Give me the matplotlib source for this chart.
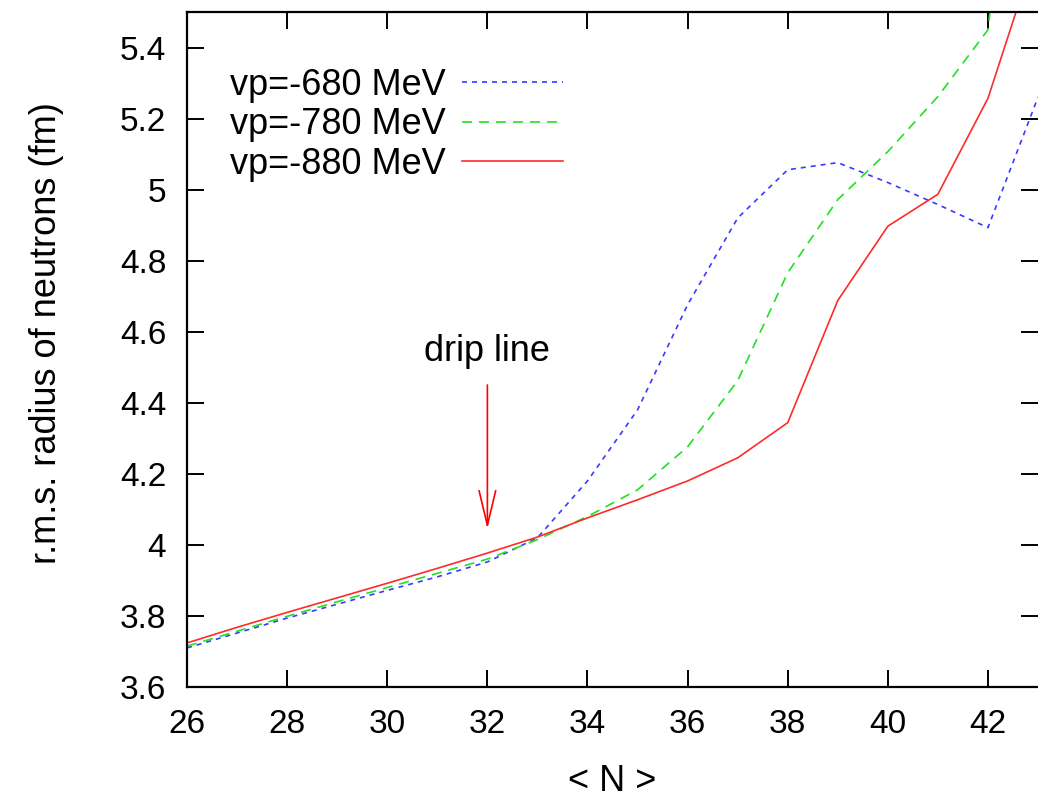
"""
rms_radius_neutrons.py — r.m.s. neutron radius vs <N> for three pairing strengths vp.
"""

import numpy as np
import matplotlib
matplotlib.use('Agg')
import matplotlib.pyplot as plt

plt.rcParams['font.family'] = ['Liberation Sans', 'DejaVu Sans']

# <N> grid
n_vals = [26, 27, 28, 29, 30, 31, 32, 33, 34, 35, 36, 37, 38, 39, 40, 41, 42, 43]

# r.m.s. radius of neutrons (fm)
r_680 = [3.710, 3.752, 3.794, 3.833, 3.872, 3.910, 3.952, 4.020, 4.180, 4.380,
         4.676, 4.920, 5.056, 5.076, 5.020, 4.958, 4.893, 5.260]
r_780 = [3.715, 3.757, 3.799, 3.840, 3.880, 3.920, 3.960, 4.015, 4.080, 4.155,
         4.276, 4.462, 4.766, 4.972, 5.107, 5.262, 5.450, 6.700]
r_880 = [3.724, 3.768, 3.810, 3.851, 3.892, 3.934, 3.977, 4.022, 4.076, 4.127,
         4.180, 4.245, 4.344, 4.688, 4.897, 4.987, 5.257, 5.690]

labels = ['vp=-680 MeV', 'vp=-780 MeV', 'vp=-880 MeV']

drip_N = 32
drip_text_y = 4.545
drip_arrow_top = 4.45
drip_arrow_tip = 4.045

FS = 26       # labels / legend / annotation
FS_TICK = 24

fig = plt.figure(figsize=(10.38, 8.0), dpi=100)
ax = fig.add_axes([0.1802, 0.14125, 0.8198, 0.84375])

ax.plot(n_vals, r_680, color='#3a3aff', lw=1.2, linestyle=(0, (3.0, 3.0)), label=labels[0])
ax.plot(n_vals, r_780, color='#22e022', lw=1.2, linestyle=(0, (6.0, 4.2)), label=labels[1])
ax.plot(n_vals, r_880, color='#ff2a2a', lw=1.2, linestyle='-', label=labels[2])

ax.annotate('', xy=(drip_N, drip_arrow_tip), xytext=(drip_N, drip_arrow_top),
            arrowprops=dict(arrowstyle='->,head_length=1.25,head_width=0.3',
                            color='red', lw=1.2, mutation_scale=20,
                            shrinkA=0, shrinkB=0))
ax.text(drip_N, drip_text_y, 'drip line', ha='center', va='center', fontsize=FS)

ax.set_xlim(26, 43)
ax.set_ylim(3.6, 5.5)
ax.set_xticks(np.arange(26, 43, 2))
ax.set_yticks(np.arange(3.6, 5.41, 0.2))
ax.set_yticklabels(['3.6', '3.8', '4', '4.2', '4.4', '4.6', '4.8', '5', '5.2', '5.4'])

ax.tick_params(direction='in', length=12, width=1.4, labelsize=FS_TICK,
               top=True, right=True, pad=16)
ax.tick_params(axis='y', pad=15)
for side in ['left', 'bottom', 'top']:
    ax.spines[side].set_linewidth(1.6)
ax.spines['right'].set_visible(False)

ax.set_xlabel('< N >', fontsize=FS, labelpad=17)
ax.set_ylabel('r.m.s. radius of neutrons (fm)', fontsize=FS)
ax.yaxis.set_label_coords(-0.145, 0.525)

leg = ax.legend(loc='upper left', bbox_to_anchor=(0.021, 0.955), frameon=False,
                markerfirst=False, fontsize=FS, handlelength=2.8,
                handletextpad=0.45, labelspacing=0.13, borderpad=0.2)

fig.savefig('out.png', dpi=100)
plt.close(fig)
